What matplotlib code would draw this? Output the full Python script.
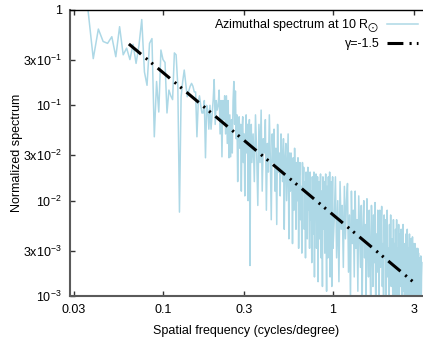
import numpy as np
import matplotlib
matplotlib.use("Agg")
import matplotlib.pyplot as plt

plt.rcParams['font.family'] = ['Liberation Sans', 'DejaVu Sans']
plt.rcParams['mathtext.fontset'] = 'custom'
plt.rcParams['mathtext.rm'] = 'Liberation Sans'
plt.rcParams['mathtext.it'] = 'Liberation Sans:italic'
plt.rcParams['mathtext.bf'] = 'Liberation Sans:bold'
plt.rcParams['mathtext.fallback'] = 'stixsans'

#==============================================================================
# Data : spectrum sampled on a 1/360 cycle/degree grid (index n)
# values below are log10 of the normalized power, read off the figure
#==============================================================================
df = 1.0 / 360

n_low = np.arange(12, 121)          # 0.033 -> 0.33, every sample
logp_low = [0.30, 0.02, -0.51, -0.20, -0.33, -0.35, -0.28, -0.49, -0.175, -0.47,
            -0.40, -0.52, -0.36, -0.56, -0.37, -0.10, -0.65, -0.79, -0.35, -0.30,
            -1.33, -0.75, -1.07,
            -0.42, -0.52, -0.55, -1.08, -0.84, -0.90, -0.94, -0.45, -0.47, -0.80,
            -2.12, -0.91, -0.75, -0.63, -0.77, -0.91, -0.85, -0.80, -0.77, -0.80,
            -0.86, -0.86, -1.33, -0.98, -0.90, -1.00, -1.08, -1.08, -0.95, -1.55,
            -1.00, -1.05, -1.25, -1.00, -1.25, -1.10, -0.95, -0.73, -1.20, -0.95,
            -1.05, -1.00, -0.84, -1.30, -0.95, -1.54, -0.95, -1.15, -0.90, -1.30,
            -0.90, -1.40, -0.95, -1.55, -1.10, -1.54, -1.15, -1.50, -0.95, -0.75,
            -1.20, -0.85, -1.35, -1.10, -1.80, -1.15, -1.12, -1.45, -1.20, -1.90,
            -1.25, -1.12, -1.60, -1.30, -1.95, -1.35, -1.10, -1.50, -1.20, -2.00,
            -1.30, -1.15, -2.68, -1.40, -1.20, -1.60]

n_mid = np.arange(122, 361, 2)      # 0.34 -> 1
logp_mid = [-1.30, -1.80, -1.10, -1.50, -2.05, -1.20, -1.60, -1.05, -1.90, -1.35,
            -1.50, -1.15, -2.10, -1.40, -1.70, -1.10, -1.55, -2.20, -1.30, -1.60,
            -1.25, -1.90, -1.45, -2.25, -1.20, -1.70, -1.50, -1.95, -1.30, -1.60,
            -1.80, -1.35, -2.30, -1.55, -1.40, -2.00, -1.65, -1.30, -2.40, -1.50,
            -1.90, -1.50, -1.70, -2.45, -1.55, -2.10, -1.45, -1.80, -2.30, -1.60,
            -2.00, -1.55, -2.50, -1.75, -1.60, -2.20, -1.85, -2.55, -1.60, -1.90,
            -1.65, -2.30, -1.80, -2.60, -1.70, -2.00, -2.40, -1.65, -2.10, -1.85,
            -2.50, -1.70, -2.20, -1.90, -2.65, -1.75, -2.05, -2.35, -1.70, -2.80,
            -1.90, -2.15, -1.72, -2.50, -2.00, -1.75, -2.85, -2.10, -1.80, -2.40,
            -2.00, -1.72, -2.60, -1.90, -2.20, -2.90, -1.75, -2.30, -2.05, -1.80,
            -2.55, -2.00, -1.72, -2.30, -2.95, -1.85, -2.15, -2.60, -1.75, -2.05,
            -2.40, -1.70, -2.80, -2.00, -2.20, -1.80, -2.90, -2.10, -1.75, -2.50]

n_high = np.arange(366, 1201, 6)    # 1 -> 3.33
logp_high = [-2.20, -1.75, -2.60, -2.00, -2.85, -1.80, -2.30, -2.05, -2.70, -1.85,
             -2.40, -2.00, -1.82, -2.75, -2.15, -3.05, -1.90, -2.45, -2.10, -2.80,
             -1.90, -2.50, -2.20, -2.95, -1.95, -2.35, -2.70, -2.05, -3.10, -2.30,
             -2.00, -2.60, -2.25, -3.00, -1.98, -2.45, -2.80, -2.10, -2.55, -3.15,
             -2.05, -2.40, -2.90, -2.15, -2.65, -2.02, -3.20, -2.35, -2.75, -2.10,
             -2.50, -3.05, -2.10, -2.70, -2.30, -2.06, -2.90, -2.45, -3.30, -2.15,
             -2.60, -2.20, -3.00, -2.40, -2.10, -2.80, -2.50, -3.20, -2.25, -2.70,
             -2.15, -2.90, -2.40, -2.60, -3.10, -2.20, -2.75, -2.45, -3.30, -2.30,
             -2.65, -2.20, -3.00, -2.50, -2.85, -2.25, -3.25, -2.55, -2.35, -2.90,
             -2.30, -2.70, -3.10, -2.40, -2.25, -2.95, -2.60, -3.30, -2.45, -2.80,
             -2.35, -3.00, -2.60, -2.30, -2.85, -3.20, -2.50, -2.70, -2.35, -3.10,
             -2.75, -2.40, -3.15, -2.55, -2.90, -2.38, -3.30, -2.65, -2.45, -3.00,
             -2.60, -2.45, -3.20, -2.80, -2.50, -3.05, -2.70, -3.35, -2.50, -2.85,
             -2.55, -3.10, -2.75, -2.60, -3.30, -2.90, -2.58, -3.15, -2.80, -2.65]

# power law gamma = -1.5, end points
fit_freq = [0.063, 3.03]
fit_power = [0.44, 0.00136]

xticks = [0.03, 0.1, 0.3, 1, 3]
xticklabels = ['0.03', '0.1', '0.3', '1', '3']
yticks = [1e-3, 3e-3, 1e-2, 3e-2, 1e-1, 3e-1, 1]
yticklabels = ['10$^{-3}$', '3x10$^{-3}$', '10$^{-2}$', '3x10$^{-2}$',
               '10$^{-1}$', '3x10$^{-1}$', '1']

freq = np.concatenate([n_low, n_mid, n_high]) * df
power = 10 ** np.concatenate([logp_low, logp_mid, logp_high])

#==============================================================================
# Plot
#==============================================================================
fig = plt.figure(figsize=(4.23, 3.37), dpi=100)
ax = fig.add_axes([70/423, 41/337, 353/423, 286/337])

ax.plot(freq, power, color='#add8e6', lw=1.1,
        label=r'Azimuthal spectrum at 10 R$_{\bigodot}$')
ax.plot(fit_freq, fit_power, color='black', lw=2.2, solid_capstyle='butt',
        dashes=(5.2, 2.0, 0.7, 1.7, 0.7, 2.0), dash_capstyle='butt',
        label='\u03b3=-1.5')

ax.set_xscale('log')
ax.set_yscale('log')
ax.set_xlim(0.02838, 3.383)
ax.set_ylim(1e-3, 1)
ax.set_xticks(xticks)
ax.set_xticklabels(xticklabels)
ax.set_yticks(yticks)
ax.set_yticklabels(yticklabels)
ax.minorticks_off()
ax.tick_params(direction='in', length=3.5, width=1, labelsize=9, pad=6,
               top=True, colors='#333333', labelcolor='black')

ax.spines['right'].set_visible(False)
ax.spines['top'].set_color('black')
ax.spines['top'].set_linewidth(1.0)
for s in ['left', 'bottom']:
    ax.spines[s].set_color('#5a5a5a')
    ax.spines[s].set_linewidth(1.5)

ax.set_xlabel('Spatial frequency (cycles/degree)', fontsize=9, labelpad=6)
ax.set_ylabel('Normalized spectrum', fontsize=9, labelpad=0)

ax.legend(loc='upper right', frameon=False, markerfirst=False, fontsize=9,
          handlelength=2.5, handletextpad=0.6, labelspacing=0.3,
          borderaxespad=0.0, bbox_to_anchor=(1.0, 0.99))

fig.savefig('out.png', dpi=100)
